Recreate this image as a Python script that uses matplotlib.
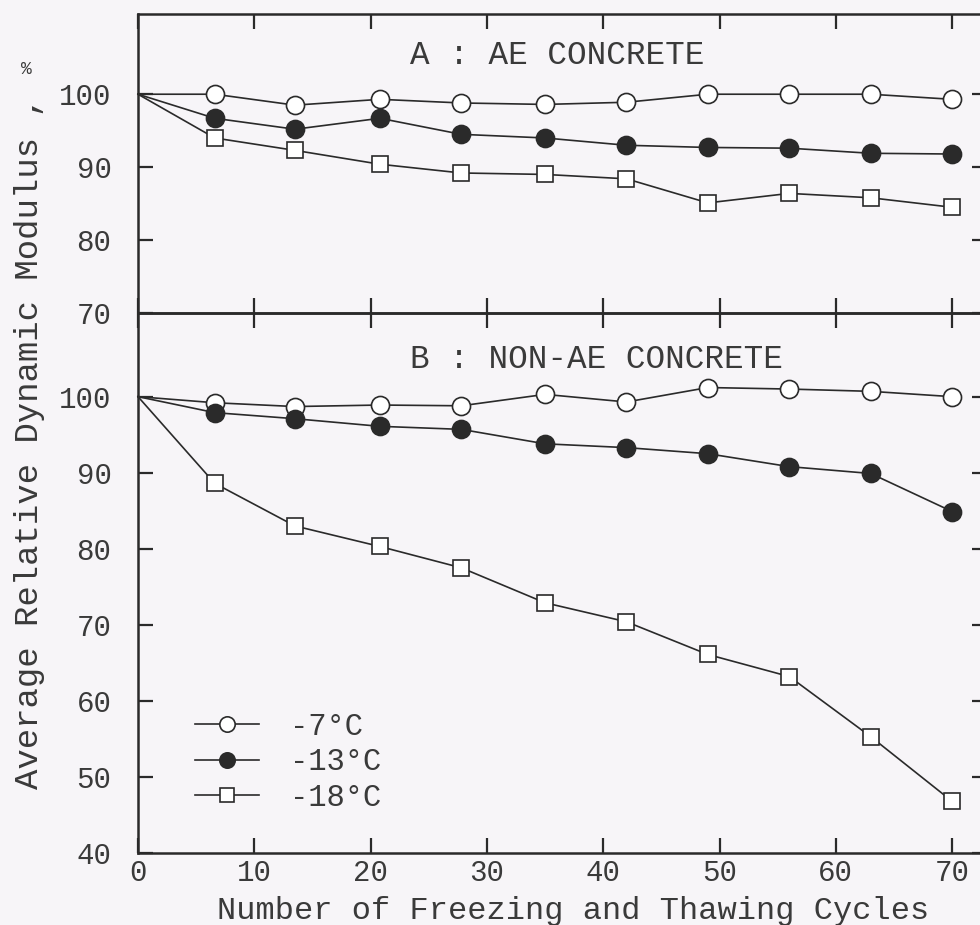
import numpy as np
import matplotlib
matplotlib.use("Agg")
from matplotlib import pyplot as plt
from matplotlib.lines import Line2D

plt.rcParams["font.family"] = ["Liberation Mono", "DejaVu Sans Mono"]

# ------ data (freeze-thaw cycles vs. relative dynamic modulus, %)

cycles = [0, 6.6, 13.5, 20.8, 27.8, 35, 42, 49, 56, 63, 70]

# A : AE concrete
ae_m7 = [100, 100.0, 98.5, 99.3, 98.8, 98.6, 98.9, 100.0, 100.0, 100.0, 99.3]
ae_m13 = [100, 96.7, 95.2, 96.7, 94.5, 94.0, 93.0, 92.7, 92.6, 91.9, 91.8]
ae_m18 = [100, 94.0, 92.3, 90.4, 89.2, 89.0, 88.4, 85.1, 86.4, 85.8, 84.5]

# B : non-AE concrete
nae_m7 = [100, 99.2, 98.7, 98.9, 98.8, 100.3, 99.3, 101.2, 101.0, 100.7, 100.0]
nae_m13 = [100, 97.9, 97.1, 96.1, 95.7, 93.8, 93.3, 92.5, 90.8, 89.9, 84.9]
nae_m18 = [100, 88.6, 83.0, 80.3, 77.5, 72.9, 70.4, 66.1, 63.2, 55.3, 46.8]

labels = ["-7\u00b0C", "-13\u00b0C", "-18\u00b0C"]
xticks = [0, 10, 20, 30, 40, 50, 60, 70]
yticks_a = [70, 80, 90, 100]
yticks_b = [40, 50, 60, 70, 80, 90, 100]

# ------ styling

bg = "#f7f5f8"
ink = "#2a2a2a"
txt = "#3a3a3a"
styles = [
    dict(marker="o", markersize=13, markerfacecolor="white"),
    dict(marker="o", markersize=13, markerfacecolor=ink),
    dict(marker="s", markersize=11.5, markerfacecolor="white"),
]

W, H = 980, 925
fig = plt.figure(figsize=(W / 100, H / 100), dpi=100, facecolor=bg)

x0 = 138 / W
wid = 73 * 11.63 / W
ax_a = fig.add_axes([x0, 612 / H, wid, 299 / H])
ax_b = fig.add_axes([x0, 72 / H, wid, 540 / H])

for ax in (ax_a, ax_b):
    ax.set_facecolor("none")
    ax.set_xlim(0, 73)
    ax.set_xticks(xticks)
    for s in ax.spines.values():
        s.set_linewidth(1.8)
        s.set_color(ink)
    ax.tick_params(axis="both", which="both", direction="in", length=11, width=1.6,
                   color=ink, top=True, right=True, labelsize=21, labelcolor=txt)
    ax.tick_params(axis="y", pad=19)
    ax.tick_params(axis="x", pad=4)

ax_a.set_ylim(70, 111)
ax_a.set_yticks(yticks_a)
ax_a.tick_params(axis="x", labelbottom=False)
ax_b.set_ylim(40, 111)
ax_b.set_yticks(yticks_b)

# lines start from the common origin; no marker is drawn at cycle 0
for ax, series in ((ax_a, (ae_m7, ae_m13, ae_m18)), (ax_b, (nae_m7, nae_m13, nae_m18))):
    for vals, st in zip(series, styles):
        ax.plot(cycles, vals, color=ink, lw=1.2, markeredgecolor=ink,
                markeredgewidth=1.2, markevery=slice(1, None), clip_on=False,
                zorder=3, **st)

fig.text(410 / W, 1 - 55 / H, "A : AE CONCRETE", fontsize=23.5, color=txt, va="center")
fig.text(410 / W, 1 - 360 / H, "B : NON-AE CONCRETE", fontsize=23.5, color=txt, va="center")

# legend
handles = [Line2D([], [], color=ink, lw=1.2, markeredgecolor=ink, markeredgewidth=1.2, **st)
           for st in styles]
ax_b.legend(handles, labels, loc="upper left", bbox_to_anchor=(195 / W, 1 - 712 / H),
            bbox_transform=fig.transFigure, frameon=False, fontsize=22, handlelength=2.1,
            handletextpad=1.0, labelspacing=0.18, borderpad=0, borderaxespad=0,
            markerscale=0.85, labelcolor=txt)

fig.text(573 / W, 1 - 911 / H, "Number of Freezing and Thawing Cycles",
         fontsize=23, color=txt, ha="center", va="center")
fig.text(30 / W, 1 - 443 / H, "Average Relative Dynamic Modulus ,",
         fontsize=24.5, color=txt, ha="center", va="center", rotation=90)
fig.text(26 / W, 1 - 70 / H, "%", fontsize=13, color=txt, ha="center", va="center")

fig.savefig("out.png", dpi=100, facecolor=bg)
